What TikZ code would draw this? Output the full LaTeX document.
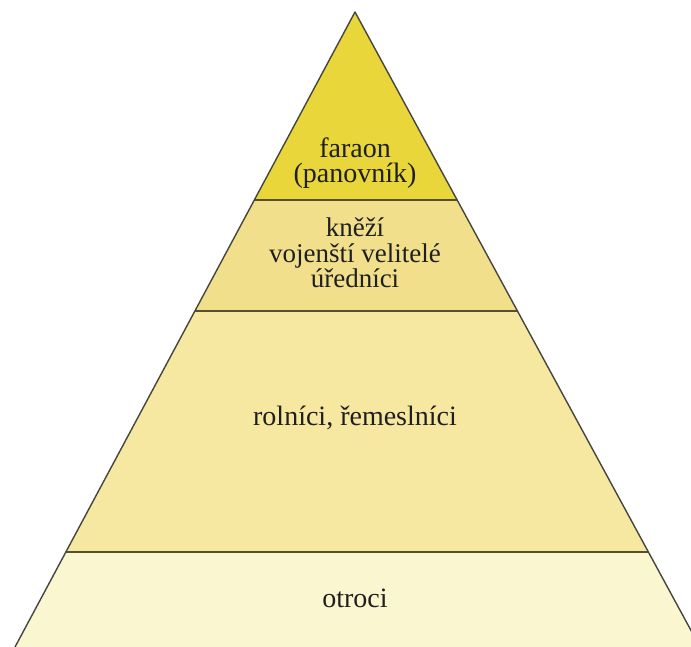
\documentclass[tikz,border=0pt]{standalone}
\usepackage{fontspec}
\setmainfont{Liberation Serif}
\usetikzlibrary{calc}
\definecolor{layerA}{RGB}{232,214,58}
\definecolor{layerB}{RGB}{241,223,140}
\definecolor{layerC}{RGB}{246,232,160}
\definecolor{layerD}{RGB}{250,246,208}
\definecolor{edgecol}{RGB}{70,70,62}
\definecolor{bandcol}{RGB}{85,80,45}
\tikzset{
  edge/.style={draw=edgecol,line width=1.4pt,line cap=round,line join=round},
  band/.style={draw=bandcol,line width=1.6pt},
  label/.style={inner sep=0pt,align=center,text=black!88}
}
\begin{document}
\begin{tikzpicture}[x=1pt,y=-1pt]
\useasboundingbox (0,0) rectangle (691,647);
\clip (0,0) rectangle (691,647);
\coordinate (A) at (355,12);
\coordinate (L) at (15,647);
\coordinate (R) at (700,647);
\coordinate (L1) at ($(A)!0.2961!(L)$);
\coordinate (R1) at ($(A)!0.2961!(R)$);
\coordinate (L2) at ($(A)!0.4709!(L)$);
\coordinate (R2) at ($(A)!0.4709!(R)$);
\coordinate (L3) at ($(A)!0.8504!(L)$);
\coordinate (R3) at ($(A)!0.8504!(R)$);
% layers
\fill[layerA] (A) -- (L1) -- (R1) -- cycle;
\fill[layerB] (L1) -- (L2) -- (R2) -- (R1) -- cycle;
\fill[layerC] (L2) -- (L3) -- (R3) -- (R2) -- cycle;
\fill[layerD] (L3) -- (L) -- (R) -- (R3) -- cycle;
% band boundaries
\draw[band] (L1) -- (R1);
\draw[band] (L2) -- (R2);
\draw[band] (L3) -- (R3);
% outline
\draw[edge] (L) -- (A) -- (R);
% labels
\node[label,font=\fontsize{28}{25.5}\selectfont] (farao) at (355,163) {faraon\\(panovník)};
\node[label,font=\fontsize{27}{25.5}\selectfont] (knezi) at (355,253) {kněží\\vojenští velitelé\\úředníci};
\node[label,font=\fontsize{28}{22}\selectfont,anchor=base] (rolnici) at (355,425) {rolníci, řemeslníci};
\node[label,font=\fontsize{28}{22}\selectfont,anchor=base] (otroci) at (355,607) {otroci};
\end{tikzpicture}
\end{document}
